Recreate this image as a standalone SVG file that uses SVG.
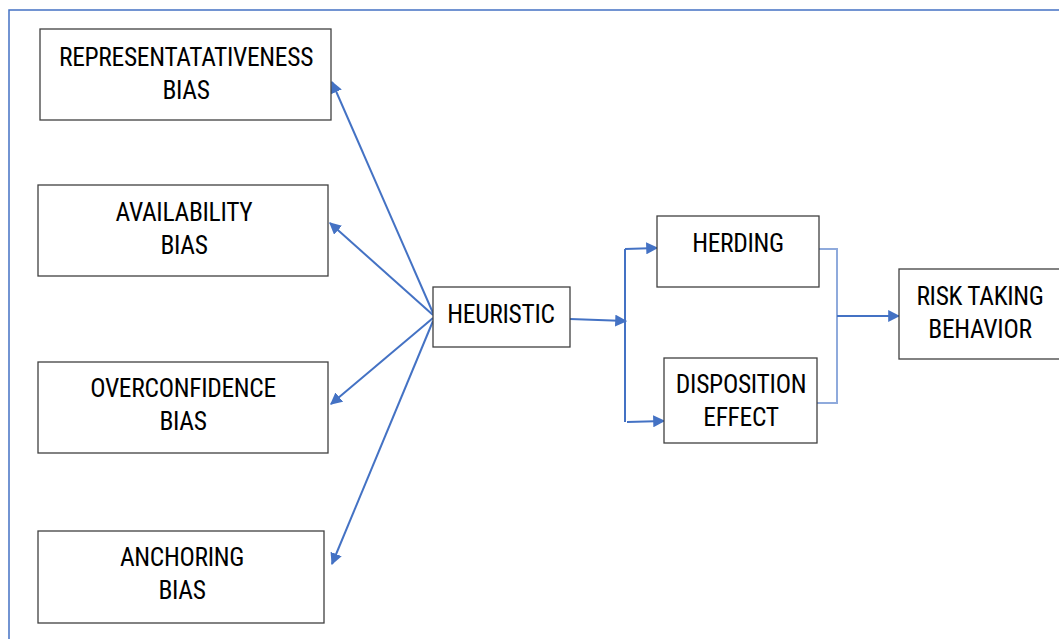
<svg xmlns="http://www.w3.org/2000/svg" width="1059" height="639" viewBox="0 0 1059 639">
<style>
.box{fill:#fff;stroke:#404040;stroke-width:1.3}
.t{font-family:"Roboto Condensed",Roboto,"Liberation Sans",sans-serif;font-size:25.5px;fill:#000;text-anchor:middle;letter-spacing:-0.3px}
.c{stroke:#4472C4;stroke-width:2;fill:none}
.cl{stroke:#8FAADC;stroke-width:2;fill:none}
</style>
<defs>
<marker id="ah" viewBox="0 0 10 10" refX="9" refY="5" markerWidth="6" markerHeight="6" orient="auto" markerUnits="strokeWidth">
<path d="M0,0 L10,5 L0,10 z" fill="#4472C4"/>
</marker>
</defs>
<rect width="1059" height="639" fill="#fff"/>
<path d="M9,639 V10 H1059" stroke="#4472C4" stroke-width="1.5" fill="none"/>
<g id="connectors">
<line class="c" x1="433" y1="313" x2="332" y2="82" marker-end="url(#ah)"/>
<line class="c" x1="433" y1="315" x2="330" y2="223" marker-end="url(#ah)"/>
<line class="c" x1="433" y1="318" x2="331" y2="404" marker-end="url(#ah)"/>
<line class="c" x1="433" y1="321" x2="332" y2="564" marker-end="url(#ah)"/>
<line class="c" x1="570" y1="319" x2="626" y2="321" marker-end="url(#ah)"/>
<path class="c" d="M625,249 V422"/>
<line class="c" x1="625" y1="249" x2="657" y2="248" marker-end="url(#ah)"/>
<line class="c" x1="627" y1="422" x2="664" y2="421" marker-end="url(#ah)"/>
<path class="cl" d="M819,249 H837 V403 H817"/>
<line class="c" x1="837" y1="316" x2="899" y2="316" marker-end="url(#ah)"/>
</g>
<g id="representativeness">
<rect class="box" x="40" y="29" width="291" height="91"/>
<text class="t" x="186" y="66">REPRESENTATATIVENESS</text>
<text class="t" x="186" y="99">BIAS</text>
</g>
<g id="availability">
<rect class="box" x="38" y="185" width="290" height="91"/>
<text class="t" x="184" y="221">AVAILABILITY</text>
<text class="t" x="184" y="254">BIAS</text>
</g>
<g id="overconfidence">
<rect class="box" x="38" y="362" width="290" height="91"/>
<text class="t" x="183" y="397">OVERCONFIDENCE</text>
<text class="t" x="183" y="430">BIAS</text>
</g>
<g id="anchoring">
<rect class="box" x="38" y="531" width="286" height="92"/>
<text class="t" x="182" y="566">ANCHORING</text>
<text class="t" x="182" y="599">BIAS</text>
</g>
<g id="heuristic">
<rect class="box" x="433" y="287" width="137" height="60"/>
<text class="t" x="501" y="323">HEURISTIC</text>
</g>
<g id="herding">
<rect class="box" x="657" y="216" width="162" height="71"/>
<text class="t" x="738" y="252">HERDING</text>
</g>
<g id="disposition">
<rect class="box" x="664" y="358" width="153" height="85"/>
<text class="t" x="741" y="393">DISPOSITION</text>
<text class="t" x="741" y="426">EFFECT</text>
</g>
<g id="risk">
<rect class="box" x="899" y="269" width="165" height="90"/>
<text class="t" x="980" y="305">RISK TAKING</text>
<text class="t" x="980" y="338">BEHAVIOR</text>
</g>
</svg>
